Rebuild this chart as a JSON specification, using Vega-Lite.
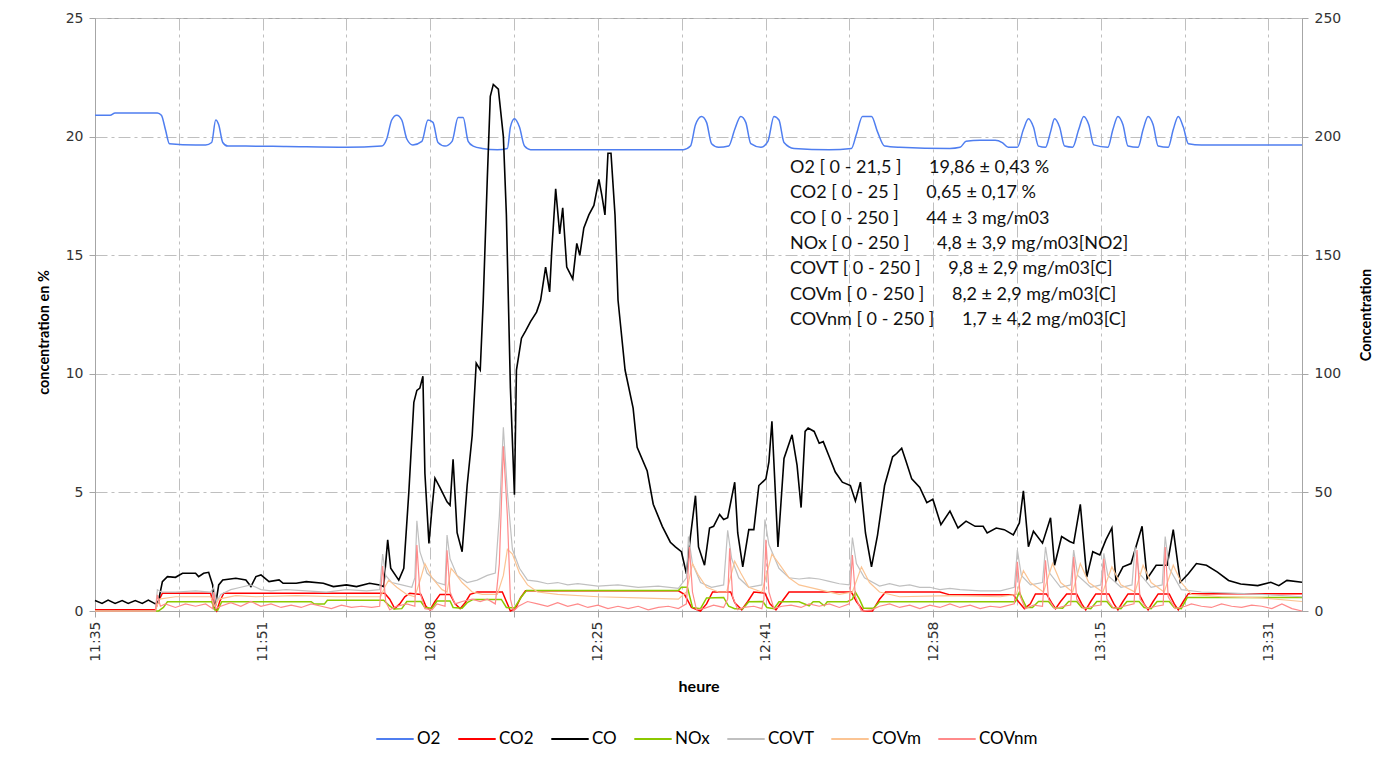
{
  "$schema": "https://vega.github.io/schema/vega-lite/v6.json",
  "width": 1207,
  "height": 593,
  "autosize": {"type": "none"},
  "padding": {"left": 95, "top": 18, "right": 93, "bottom": 149},
  "background": "white",
  "config": {
    "font": "Lato",
    "view": {"stroke": "#a6a6a6", "strokeWidth": 1},
    "axis": {
      "labelFont": "DejaVu Sans", "labelFontSize": 14, "labelColor": "#333333",
      "titleFont": "Lato", "titleFontWeight": "bold", "titleFontSize": 14, "titleColor": "#000000",
      "domainColor": "#a6a6a6", "tickColor": "#a6a6a6", "tickSize": 6,
      "gridColor": "#bfbfbf", "gridDash": [12, 4, 3, 4], "gridWidth": 1
    },
    "legend": {
      "orient": "none", "legendX": 280, "legendY": 701, "direction": "horizontal",
      "symbolType": "stroke", "symbolSize": 1400, "symbolStrokeWidth": 2,
      "labelFont": "Lato", "labelFontSize": 17, "labelColor": "#000000",
      "columnPadding": 13, "labelOffset": 2, "title": null
    }
  },
  "datasets": {
    "O2": [{"t":0,"v":20.9},{"t":1.5,"v":20.9},{"t":2,"v":21.0},{"t":6.2,"v":21.0},{"t":6.6,"v":20.9},{"t":7.0,"v":20.3},{"t":7.4,"v":19.7},{"t":10,"v":19.65},{"t":11,"v":19.65},{"t":11.6,"v":19.75},{"t":12.0,"v":20.7},{"t":12.3,"v":20.5},{"t":12.7,"v":19.75},{"t":13.2,"v":19.6},{"t":15,"v":19.6},{"t":19,"v":19.58},{"t":25,"v":19.55},{"t":28.5,"v":19.6},{"t":29.0,"v":19.9},{"t":29.5,"v":20.7},{"t":30.0,"v":20.9},{"t":30.5,"v":20.7},{"t":31.0,"v":19.9},{"t":31.6,"v":19.65},{"t":32.5,"v":19.8},{"t":33.1,"v":20.7},{"t":33.6,"v":20.6},{"t":34.1,"v":19.75},{"t":34.8,"v":19.6},{"t":35.5,"v":19.8},{"t":36.1,"v":20.8},{"t":36.6,"v":20.8},{"t":37.1,"v":19.8},{"t":37.6,"v":19.6},{"t":38.5,"v":19.5},{"t":40.0,"v":19.45},{"t":41.0,"v":19.5},{"t":41.3,"v":20.4},{"t":41.7,"v":20.75},{"t":42.2,"v":20.4},{"t":42.7,"v":19.6},{"t":43.3,"v":19.45},{"t":50,"v":19.45},{"t":55,"v":19.45},{"t":58.5,"v":19.45},{"t":59.2,"v":19.6},{"t":59.7,"v":20.5},{"t":60.3,"v":20.85},{"t":60.8,"v":20.6},{"t":61.3,"v":19.7},{"t":62,"v":19.55},{"t":63,"v":19.6},{"t":63.6,"v":20.3},{"t":64.2,"v":20.85},{"t":64.7,"v":20.6},{"t":65.2,"v":19.7},{"t":66.2,"v":19.55},{"t":66.9,"v":19.8},{"t":67.5,"v":20.85},{"t":68,"v":20.7},{"t":68.5,"v":19.75},{"t":69.5,"v":19.5},{"t":73,"v":19.45},{"t":75.2,"v":19.5},{"t":75.7,"v":20.1},{"t":76.3,"v":20.85},{"t":77.2,"v":20.85},{"t":77.8,"v":20.2},{"t":78.5,"v":19.6},{"t":80,"v":19.55},{"t":85,"v":19.5},{"t":86,"v":19.55},{"t":86.6,"v":19.8},{"t":88,"v":19.85},{"t":89.5,"v":19.85},{"t":90.2,"v":19.75},{"t":90.8,"v":19.55},{"t":91.7,"v":19.55},{"t":92.3,"v":20.3},{"t":92.8,"v":20.75},{"t":93.3,"v":20.4},{"t":93.8,"v":19.6},{"t":94.5,"v":19.55},{"t":95.0,"v":20.2},{"t":95.4,"v":20.75},{"t":95.9,"v":20.4},{"t":96.4,"v":19.6},{"t":97.2,"v":19.55},{"t":97.8,"v":20.3},{"t":98.3,"v":20.85},{"t":98.8,"v":20.5},{"t":99.3,"v":19.65},{"t":100.7,"v":19.55},{"t":101.2,"v":20.3},{"t":101.7,"v":20.85},{"t":102.2,"v":20.5},{"t":102.7,"v":19.6},{"t":103.7,"v":19.55},{"t":104.2,"v":20.3},{"t":104.7,"v":20.85},{"t":105.2,"v":20.5},{"t":105.7,"v":19.6},{"t":106.7,"v":19.55},{"t":107.2,"v":20.3},{"t":107.7,"v":20.85},{"t":108.2,"v":20.4},{"t":108.7,"v":19.7},{"t":110,"v":19.65},{"t":120,"v":19.65}],
    "CO2": [{"t":0,"v":0.05},{"t":6.0,"v":0.05},{"t":6.3,"v":0.4},{"t":6.7,"v":0.75},{"t":11.5,"v":0.75},{"t":11.8,"v":0.2},{"t":12.1,"v":0.0},{"t":12.4,"v":0.4},{"t":12.8,"v":0.75},{"t":28.8,"v":0.75},{"t":29.3,"v":0.5},{"t":29.8,"v":0.1},{"t":30.3,"v":0.3},{"t":30.8,"v":0.6},{"t":31.3,"v":0.75},{"t":32.4,"v":0.7},{"t":32.9,"v":0.2},{"t":33.3,"v":0.05},{"t":33.8,"v":0.4},{"t":34.3,"v":0.7},{"t":35.3,"v":0.7},{"t":35.8,"v":0.3},{"t":36.3,"v":0.1},{"t":36.8,"v":0.35},{"t":37.3,"v":0.7},{"t":38,"v":0.8},{"t":40.5,"v":0.8},{"t":40.9,"v":0.4},{"t":41.3,"v":0.0},{"t":41.8,"v":0.1},{"t":42.3,"v":0.55},{"t":42.8,"v":0.85},{"t":58.0,"v":0.85},{"t":58.6,"v":0.7},{"t":59.3,"v":0.15},{"t":60.2,"v":0.0},{"t":60.8,"v":0.3},{"t":61.4,"v":0.8},{"t":63.2,"v":0.8},{"t":63.6,"v":0.35},{"t":64.3,"v":0.05},{"t":64.9,"v":0.4},{"t":65.5,"v":0.8},{"t":66.6,"v":0.75},{"t":67.1,"v":0.3},{"t":67.7,"v":0.05},{"t":68.3,"v":0.4},{"t":69,"v":0.8},{"t":75.2,"v":0.8},{"t":75.7,"v":0.4},{"t":76.4,"v":0.0},{"t":77.3,"v":0.0},{"t":78.0,"v":0.5},{"t":78.6,"v":0.8},{"t":84,"v":0.8},{"t":85,"v":0.68},{"t":91.3,"v":0.68},{"t":91.8,"v":0.4},{"t":92.4,"v":0.1},{"t":93.0,"v":0.3},{"t":93.5,"v":0.72},{"t":94.6,"v":0.72},{"t":95.1,"v":0.35},{"t":95.5,"v":0.1},{"t":96,"v":0.4},{"t":96.6,"v":0.72},{"t":97.6,"v":0.72},{"t":98.1,"v":0.3},{"t":98.5,"v":0.05},{"t":99,"v":0.4},{"t":99.5,"v":0.72},{"t":100.8,"v":0.72},{"t":101.3,"v":0.3},{"t":101.7,"v":0.05},{"t":102.2,"v":0.4},{"t":102.7,"v":0.72},{"t":103.8,"v":0.72},{"t":104.3,"v":0.3},{"t":104.7,"v":0.05},{"t":105.2,"v":0.4},{"t":105.7,"v":0.72},{"t":106.8,"v":0.72},{"t":107.3,"v":0.3},{"t":107.7,"v":0.05},{"t":108.2,"v":0.4},{"t":108.7,"v":0.73},{"t":120,"v":0.73}],
    "CO": [{"t":0,"v":4.4},{"t":0.7,"v":3.2},{"t":1.3,"v":4.6},{"t":2,"v":3.2},{"t":2.7,"v":4.4},{"t":3.3,"v":3.2},{"t":4,"v":4.4},{"t":4.7,"v":3.2},{"t":5.3,"v":4.6},{"t":6,"v":3},{"t":6.3,"v":4},{"t":6.7,"v":12.4},{"t":7.2,"v":14.5},{"t":8,"v":14.2},{"t":8.7,"v":15.9},{"t":10,"v":15.9},{"t":10.3,"v":14.5},{"t":10.8,"v":15.9},{"t":11.3,"v":16.3},{"t":11.7,"v":11},{"t":11.9,"v":0.4},{"t":12.3,"v":11},{"t":12.7,"v":13.1},{"t":14,"v":13.8},{"t":15,"v":13.1},{"t":15.5,"v":10.3},{"t":16,"v":14.5},{"t":16.5,"v":15.2},{"t":17.3,"v":12.4},{"t":18.3,"v":13.1},{"t":18.7,"v":11.7},{"t":20,"v":11.7},{"t":21,"v":12.4},{"t":22.7,"v":11.7},{"t":23.7,"v":10.3},{"t":25,"v":11},{"t":26,"v":10.3},{"t":27.3,"v":11.7},{"t":28.3,"v":11},{"t":28.7,"v":10.3},{"t":29.1,"v":30},{"t":29.4,"v":18},{"t":30.2,"v":13},{"t":30.7,"v":18},{"t":31.2,"v":50},{"t":31.7,"v":88},{"t":32.0,"v":93},{"t":32.3,"v":94},{"t":32.6,"v":99},{"t":32.8,"v":58},{"t":33.2,"v":28.5},{"t":33.5,"v":43},{"t":33.8,"v":56},{"t":34.3,"v":52},{"t":35.0,"v":46},{"t":35.3,"v":44.6},{"t":35.6,"v":64},{"t":36.0,"v":33},{"t":36.5,"v":25},{"t":37.0,"v":53},{"t":37.5,"v":74},{"t":37.9,"v":104.5},{"t":38.3,"v":101.6},{"t":38.6,"v":131},{"t":39.0,"v":182},{"t":39.3,"v":217},{"t":39.6,"v":222},{"t":40.1,"v":220},{"t":40.6,"v":200},{"t":40.9,"v":167},{"t":41.3,"v":94},{"t":41.7,"v":49},{"t":41.9,"v":101.6},{"t":42.4,"v":115},{"t":42.8,"v":118},{"t":43.3,"v":122},{"t":43.9,"v":126},{"t":44.3,"v":131},{"t":44.8,"v":145},{"t":45.2,"v":134.5},{"t":45.4,"v":151},{"t":45.8,"v":178},{"t":46.2,"v":159},{"t":46.5,"v":170},{"t":46.9,"v":145},{"t":47.5,"v":140},{"t":47.9,"v":155},{"t":48.2,"v":150},{"t":48.6,"v":161.5},{"t":49.1,"v":167},{"t":49.6,"v":171},{"t":50.1,"v":182},{"t":50.4,"v":175},{"t":50.7,"v":167},{"t":51.0,"v":193},{"t":51.3,"v":193},{"t":51.7,"v":167},{"t":52.0,"v":131},{"t":52.7,"v":101.6},{"t":53.5,"v":85.5},{"t":53.9,"v":69},{"t":54.9,"v":59},{"t":55.5,"v":45},{"t":56.4,"v":35.7},{"t":57.2,"v":29},{"t":57.7,"v":27},{"t":58.3,"v":25},{"t":58.8,"v":15.7},{"t":59.2,"v":31.4},{"t":59.7,"v":48.6},{"t":60.0,"v":27},{"t":60.6,"v":19.3},{"t":61.1,"v":35},{"t":61.5,"v":35.7},{"t":62.1,"v":40.7},{"t":62.5,"v":38.6},{"t":62.9,"v":39.3},{"t":63.6,"v":54.3},{"t":63.9,"v":32.9},{"t":64.4,"v":18.6},{"t":65.0,"v":34.3},{"t":65.5,"v":34.3},{"t":66.0,"v":52.9},{"t":66.7,"v":55.7},{"t":67.0,"v":62.9},{"t":67.3,"v":80},{"t":67.9,"v":27},{"t":68.5,"v":64.3},{"t":69.3,"v":74.3},{"t":69.8,"v":61.4},{"t":70.2,"v":43.6},{"t":70.6,"v":75.7},{"t":70.9,"v":77.1},{"t":71.5,"v":75.7},{"t":72.0,"v":70.7},{"t":72.4,"v":71.4},{"t":73.0,"v":65},{"t":73.6,"v":58.6},{"t":74.3,"v":54.3},{"t":75.1,"v":52.9},{"t":75.6,"v":46.4},{"t":76.1,"v":54.3},{"t":76.6,"v":32.9},{"t":77.2,"v":18.6},{"t":77.8,"v":32},{"t":78.5,"v":52.9},{"t":79.3,"v":65},{"t":79.7,"v":66.4},{"t":80.2,"v":68.6},{"t":80.6,"v":63.6},{"t":81.2,"v":55.7},{"t":82.0,"v":52.1},{"t":82.7,"v":45.7},{"t":83.3,"v":47.1},{"t":84.1,"v":36.4},{"t":85.0,"v":42.1},{"t":85.8,"v":35},{"t":86.6,"v":37.9},{"t":87.5,"v":35.7},{"t":88.3,"v":35.7},{"t":88.7,"v":32.9},{"t":89.6,"v":35},{"t":90.4,"v":34.3},{"t":91.3,"v":32.1},{"t":91.9,"v":37.1},{"t":92.3,"v":50.7},{"t":92.8,"v":27.1},{"t":93.3,"v":33.6},{"t":94.2,"v":28.6},{"t":95.0,"v":39.3},{"t":95.4,"v":19.3},{"t":96.1,"v":31.4},{"t":96.9,"v":29.3},{"t":97.3,"v":28.6},{"t":97.96,"v":45},{"t":98.6,"v":14.3},{"t":99.2,"v":25},{"t":99.9,"v":23.6},{"t":100.5,"v":30},{"t":101.1,"v":35},{"t":101.5,"v":12.9},{"t":102.2,"v":18.6},{"t":103.0,"v":20},{"t":104.1,"v":35.7},{"t":104.6,"v":13.6},{"t":105.5,"v":19.3},{"t":106.6,"v":19.3},{"t":107.2,"v":34.3},{"t":107.9,"v":12.1},{"t":108.7,"v":15.7},{"t":109.5,"v":20},{"t":110.5,"v":19.3},{"t":111.6,"v":16.4},{"t":112.7,"v":12.9},{"t":113.9,"v":11.4},{"t":115.6,"v":10.7},{"t":116.9,"v":12.1},{"t":117.7,"v":10.7},{"t":118.5,"v":12.9},{"t":120,"v":12.1}],
    "NOx": [{"t":0,"v":0},{"t":6.3,"v":0},{"t":6.8,"v":1.5},{"t":7.2,"v":3.9},{"t":11.6,"v":3.9},{"t":11.9,"v":0.5},{"t":12.2,"v":0.3},{"t":12.6,"v":3.9},{"t":21.5,"v":3.9},{"t":21.8,"v":2.9},{"t":22.8,"v":2.9},{"t":23.1,"v":4.5},{"t":28.7,"v":4.5},{"t":29.2,"v":2.5},{"t":29.7,"v":0.8},{"t":30.5,"v":1.0},{"t":31.0,"v":4},{"t":32.4,"v":4},{"t":32.8,"v":1.5},{"t":33.5,"v":1.2},{"t":34.0,"v":4.2},{"t":35.3,"v":4.2},{"t":35.6,"v":1.5},{"t":36.5,"v":1.2},{"t":37,"v":3.5},{"t":37.6,"v":4.9},{"t":40.4,"v":4.9},{"t":40.9,"v":1.5},{"t":41.7,"v":1.3},{"t":42.4,"v":6},{"t":42.9,"v":8.6},{"t":58.0,"v":8.6},{"t":58.3,"v":10},{"t":58.9,"v":10},{"t":59.4,"v":1.5},{"t":60.2,"v":1.0},{"t":60.8,"v":5.5},{"t":62.5,"v":5.7},{"t":63.0,"v":2},{"t":63.6,"v":1},{"t":64.4,"v":1},{"t":65,"v":3.9},{"t":66.4,"v":4},{"t":66.8,"v":1.5},{"t":67.5,"v":1},{"t":68.0,"v":3.9},{"t":70,"v":3.9},{"t":71,"v":2.2},{"t":71.4,"v":3.9},{"t":72,"v":3.9},{"t":72.5,"v":2.2},{"t":72.8,"v":3.9},{"t":74.8,"v":3.9},{"t":75.3,"v":5},{"t":75.6,"v":7.9},{"t":76.0,"v":5},{"t":76.4,"v":1.2},{"t":77.4,"v":1.2},{"t":78.0,"v":3.9},{"t":91.5,"v":3.9},{"t":91.9,"v":7.9},{"t":92.2,"v":5},{"t":92.6,"v":1.5},{"t":93.2,"v":1.5},{"t":93.8,"v":4},{"t":94.8,"v":4},{"t":95.3,"v":1.5},{"t":96.2,"v":1.2},{"t":96.8,"v":4},{"t":97.6,"v":4},{"t":98.1,"v":1.5},{"t":99,"v":1},{"t":99.6,"v":4},{"t":100.6,"v":4},{"t":101.1,"v":1.5},{"t":102,"v":1},{"t":102.6,"v":4},{"t":103.8,"v":4},{"t":104.3,"v":1.5},{"t":105,"v":1},{"t":105.6,"v":4},{"t":106.8,"v":4},{"t":107.3,"v":1.5},{"t":108,"v":1},{"t":108.6,"v":5.7},{"t":120,"v":5.7}],
    "COVT": [{"t":0,"v":0},{"t":6.0,"v":0},{"t":6.2,"v":9},{"t":6.6,"v":8},{"t":8,"v":8},{"t":10,"v":8.5},{"t":11.5,"v":8},{"t":11.8,"v":10},{"t":12.1,"v":4},{"t":12.5,"v":7},{"t":13.5,"v":9},{"t":14.5,"v":10},{"t":15.5,"v":11},{"t":16.5,"v":9},{"t":17.5,"v":8.5},{"t":19,"v":9},{"t":21,"v":8.5},{"t":23,"v":8},{"t":25,"v":9},{"t":27,"v":8.5},{"t":28.3,"v":9},{"t":28.6,"v":24},{"t":28.9,"v":15},{"t":29.5,"v":12},{"t":30.5,"v":11},{"t":31.5,"v":10},{"t":31.8,"v":14},{"t":32.0,"v":38},{"t":32.3,"v":25},{"t":33,"v":16},{"t":34,"v":12},{"t":34.8,"v":11},{"t":35.0,"v":32},{"t":35.3,"v":22},{"t":36,"v":15},{"t":37,"v":12},{"t":38,"v":13},{"t":39,"v":15},{"t":39.8,"v":16},{"t":40.2,"v":40},{"t":40.6,"v":77.5},{"t":41.0,"v":50},{"t":41.5,"v":26},{"t":42.2,"v":18},{"t":43,"v":13},{"t":44,"v":12.5},{"t":45,"v":11.5},{"t":46,"v":12},{"t":47,"v":11},{"t":48,"v":11.5},{"t":50,"v":10.5},{"t":52,"v":11},{"t":54,"v":10},{"t":56,"v":10.5},{"t":58,"v":9.5},{"t":58.8,"v":14},{"t":59.0,"v":31.4},{"t":59.4,"v":20},{"t":60.2,"v":12},{"t":61.3,"v":10},{"t":62.5,"v":11},{"t":62.9,"v":34},{"t":63.3,"v":22},{"t":64,"v":14},{"t":65,"v":10},{"t":66.3,"v":11},{"t":66.6,"v":38.6},{"t":67,"v":28},{"t":68,"v":18},{"t":69,"v":14},{"t":70,"v":13.5},{"t":71,"v":14},{"t":72,"v":13.5},{"t":73,"v":12.5},{"t":74,"v":11.5},{"t":75.0,"v":11},{"t":75.3,"v":31},{"t":75.7,"v":20},{"t":76.5,"v":14},{"t":78,"v":10.5},{"t":79,"v":11.5},{"t":80,"v":10.5},{"t":81,"v":11},{"t":82,"v":10},{"t":83,"v":10},{"t":84,"v":9},{"t":85,"v":9.5},{"t":86,"v":9},{"t":88,"v":8.5},{"t":90,"v":8.5},{"t":91.4,"v":10},{"t":91.7,"v":25.7},{"t":92.1,"v":15},{"t":93,"v":11},{"t":94.2,"v":12},{"t":94.5,"v":27},{"t":94.9,"v":16},{"t":96,"v":10},{"t":97.0,"v":11},{"t":97.3,"v":25.7},{"t":97.7,"v":15},{"t":99,"v":10},{"t":100.0,"v":11},{"t":100.3,"v":24.3},{"t":100.7,"v":15},{"t":102,"v":10},{"t":103.1,"v":11},{"t":103.4,"v":27},{"t":103.8,"v":16},{"t":105,"v":10},{"t":106.1,"v":11},{"t":106.4,"v":31.4},{"t":106.8,"v":18},{"t":108,"v":9},{"t":110,"v":8},{"t":113,"v":7.5},{"t":116,"v":7},{"t":120,"v":6}],
    "COVm": [{"t":0,"v":0},{"t":6.0,"v":0},{"t":6.4,"v":5},{"t":8,"v":6},{"t":11.5,"v":6},{"t":11.9,"v":2},{"t":12.3,"v":5},{"t":14,"v":6.5},{"t":16,"v":6},{"t":20,"v":6.5},{"t":24,"v":6},{"t":28.4,"v":6},{"t":28.8,"v":10},{"t":29.2,"v":13},{"t":30,"v":10},{"t":31,"v":7},{"t":31.8,"v":6},{"t":32.4,"v":14},{"t":32.8,"v":20},{"t":33.5,"v":14},{"t":34.5,"v":9},{"t":35.0,"v":8},{"t":35.4,"v":18},{"t":35.8,"v":16},{"t":36.5,"v":12},{"t":37.5,"v":8},{"t":38.5,"v":7},{"t":40.0,"v":7},{"t":40.6,"v":15},{"t":41.0,"v":26},{"t":41.5,"v":24},{"t":42.2,"v":16},{"t":43,"v":11},{"t":44,"v":8},{"t":46,"v":7},{"t":50,"v":6},{"t":54,"v":5.5},{"t":58,"v":5},{"t":58.8,"v":8},{"t":59.4,"v":20},{"t":60,"v":15},{"t":60.8,"v":10},{"t":62,"v":8},{"t":62.8,"v":8},{"t":63.6,"v":21},{"t":64.2,"v":16},{"t":65,"v":10},{"t":66.3,"v":8},{"t":66.8,"v":16},{"t":67.3,"v":24},{"t":68,"v":20},{"t":69,"v":14},{"t":70,"v":11},{"t":72,"v":9},{"t":74,"v":7},{"t":75.3,"v":8},{"t":76.2,"v":18.6},{"t":77,"v":12},{"t":78,"v":8},{"t":80,"v":6},{"t":85,"v":6.5},{"t":90,"v":6},{"t":91.6,"v":7},{"t":92.3,"v":17},{"t":93,"v":12},{"t":94.3,"v":8},{"t":95.2,"v":20},{"t":96,"v":12},{"t":97.2,"v":8},{"t":97.96,"v":20},{"t":98.8,"v":12},{"t":100.2,"v":8},{"t":101.1,"v":18.6},{"t":102,"v":11},{"t":103.4,"v":8},{"t":104.2,"v":19.3},{"t":105,"v":12},{"t":106.3,"v":8},{"t":107.2,"v":19.3},{"t":108,"v":12},{"t":109,"v":7},{"t":112,"v":6},{"t":116,"v":5.5},{"t":120,"v":4}],
    "COVnm": [{"t":0,"v":0},{"t":6.0,"v":0},{"t":6.2,"v":6.8},{"t":6.5,"v":2},{"t":7,"v":3},{"t":8,"v":1.5},{"t":9,"v":3},{"t":10,"v":2},{"t":11,"v":3},{"t":11.7,"v":1},{"t":11.8,"v":8},{"t":12.0,"v":1},{"t":12.5,"v":2},{"t":13.5,"v":3.5},{"t":14.5,"v":2},{"t":15.5,"v":4},{"t":16.5,"v":2},{"t":17.5,"v":3},{"t":18.5,"v":1.5},{"t":19.5,"v":2.5},{"t":20.5,"v":1.5},{"t":21.5,"v":3},{"t":22.5,"v":2},{"t":23.5,"v":1},{"t":24.5,"v":2.5},{"t":25.5,"v":1.5},{"t":26.5,"v":2},{"t":27.5,"v":1.5},{"t":28.3,"v":2},{"t":28.6,"v":19},{"t":28.9,"v":4},{"t":29.3,"v":0.5},{"t":30,"v":2},{"t":31,"v":3},{"t":31.8,"v":2},{"t":32.0,"v":27.8},{"t":32.3,"v":8},{"t":32.8,"v":1},{"t":33.5,"v":0.5},{"t":34,"v":3},{"t":34.8,"v":2},{"t":35.0,"v":25.6},{"t":35.3,"v":8},{"t":35.8,"v":3},{"t":36.5,"v":4},{"t":37.5,"v":5},{"t":38.3,"v":4},{"t":39,"v":5},{"t":39.8,"v":3},{"t":40.2,"v":20},{"t":40.6,"v":69.4},{"t":41.0,"v":40},{"t":41.3,"v":5},{"t":41.6,"v":0},{"t":42.1,"v":2},{"t":43,"v":4},{"t":44,"v":3},{"t":45,"v":2},{"t":46,"v":3.5},{"t":47,"v":2},{"t":48,"v":3},{"t":49,"v":1.5},{"t":50,"v":2.5},{"t":51,"v":1},{"t":52,"v":2},{"t":53,"v":1},{"t":54,"v":2},{"t":55,"v":0.5},{"t":56,"v":1.5},{"t":57,"v":2},{"t":58,"v":1},{"t":58.8,"v":3},{"t":59.1,"v":27},{"t":59.4,"v":8},{"t":59.8,"v":0.5},{"t":60.5,"v":1},{"t":61.5,"v":2.5},{"t":62.5,"v":1.5},{"t":62.9,"v":5},{"t":63.1,"v":26.4},{"t":63.4,"v":6},{"t":63.9,"v":0.5},{"t":64.5,"v":1.5},{"t":65.5,"v":2},{"t":66.3,"v":1},{"t":66.5,"v":5},{"t":66.7,"v":30},{"t":67.0,"v":8},{"t":67.5,"v":1},{"t":68.3,"v":2},{"t":69.2,"v":2.5},{"t":70.2,"v":1.5},{"t":71,"v":3},{"t":72,"v":2},{"t":73,"v":3},{"t":74,"v":1.5},{"t":75.0,"v":3},{"t":75.3,"v":23.6},{"t":75.6,"v":6},{"t":76.2,"v":0},{"t":77.2,"v":0.5},{"t":78,"v":2},{"t":79,"v":3},{"t":80,"v":1.5},{"t":81,"v":2.5},{"t":82,"v":1},{"t":83,"v":2.5},{"t":84,"v":1.5},{"t":85,"v":3},{"t":86,"v":1.5},{"t":87,"v":2.5},{"t":88,"v":1},{"t":89,"v":2},{"t":90,"v":1.5},{"t":91.4,"v":3},{"t":91.7,"v":20.7},{"t":92,"v":6},{"t":92.5,"v":1},{"t":93.3,"v":2.5},{"t":94.2,"v":2},{"t":94.5,"v":21.4},{"t":94.8,"v":5},{"t":95.4,"v":1},{"t":96.3,"v":2},{"t":97.0,"v":2.5},{"t":97.3,"v":22.9},{"t":97.6,"v":5},{"t":98.3,"v":1},{"t":99.2,"v":2},{"t":100.0,"v":2.5},{"t":100.3,"v":22},{"t":100.6,"v":5},{"t":101.3,"v":1},{"t":102.3,"v":2},{"t":103.3,"v":3},{"t":103.6,"v":25.7},{"t":103.9,"v":5},{"t":104.6,"v":1},{"t":105.5,"v":2},{"t":106.2,"v":2.5},{"t":106.4,"v":27},{"t":106.7,"v":6},{"t":107.4,"v":1},{"t":108.4,"v":2},{"t":109,"v":3},{"t":110,"v":2},{"t":111,"v":1.5},{"t":112,"v":3},{"t":113,"v":2},{"t":114,"v":1.5},{"t":115,"v":2.5},{"t":116,"v":2},{"t":117,"v":1},{"t":118,"v":3},{"t":119,"v":1},{"t":120,"v":0}],
    "notes": [
      {"k": 0, "txt": "O2 [ 0 - 21,5 ]\u00a0\u00a0\u00a0\u00a0\u00a0 19,86 ± 0,43 %"},
      {"k": 1, "txt": "CO2 [ 0 - 25 ]\u00a0\u00a0\u00a0\u00a0\u00a0 0,65 ± 0,17 %"},
      {"k": 2, "txt": "CO [ 0 - 250 ]\u00a0\u00a0\u00a0\u00a0\u00a0 44 ± 3 mg/m03"},
      {"k": 3, "txt": "NOx [ 0 - 250 ]\u00a0\u00a0\u00a0\u00a0\u00a0 4,8 ± 3,9 mg/m03[NO2]"},
      {"k": 4, "txt": "COVT [ 0 - 250 ]\u00a0\u00a0\u00a0\u00a0\u00a0 9,8 ± 2,9 mg/m03[C]"},
      {"k": 5, "txt": "COVm [ 0 - 250 ]\u00a0\u00a0\u00a0\u00a0\u00a0 8,2 ± 2,9 mg/m03[C]"},
      {"k": 6, "txt": "COVnm [ 0 - 250 ]\u00a0\u00a0\u00a0\u00a0\u00a0 1,7 ± 4,2 mg/m03[C]"}
    ]
  },
  "layer": [
    {
      "encoding": {
        "x": {
          "field": "t", "type": "quantitative",
          "scale": {"domain": [0, 120], "nice": false, "zero": false},
          "axis": {
            "title": "heure", "titleFontSize": 16, "titlePadding": 17,
            "values": [0, 8.33333, 16.66667, 25, 33.33333, 41.66667, 50, 58.33333, 66.66667, 75, 83.33333, 91.66667, 100, 108.33333, 116.66667],
            "labelExpr": "round(datum.value / 8.33333) % 2 == 0 ? (floor((695 + datum.value + 0.01) / 60) + ':' + (floor((695 + datum.value + 0.01) % 60) < 10 ? '0' : '') + floor((695 + datum.value + 0.01) % 60)) : ''",
            "labelAngle": 270, "labelFlush": false, "labelOverlap": false, "labelPadding": 4,
            "grid": true
          }
        },
        "y": {
          "field": "v", "type": "quantitative",
          "scale": {"domain": [0, 25], "nice": false, "zero": true},
          "axis": {
            "title": "concentration en %", "titleFontSize": 14.5, "titlePadding": 14, "titleY": 314,
            "values": [0, 5, 10, 15, 20, 25], "grid": true, "labelPadding": 6
          }
        }
      },
      "layer": [
        {
          "data": {"name": "O2"},
          "mark": {"type": "line", "strokeWidth": 1.5, "interpolate": "monotone"},
          "encoding": {"color": {"datum": "O2", "type": "nominal", "scale": {"domain": ["O2", "CO2", "CO", "NOx", "COVT", "COVm", "COVnm"], "range": ["#4f7ef0", "#ff0000", "#000000", "#8cc800", "#c0c0c0", "#fbc493", "#ff8a8a"]}}}
        },
        {
          "data": {"name": "CO2"},
          "mark": {"type": "line", "strokeWidth": 1.5},
          "encoding": {"color": {"datum": "CO2", "type": "nominal", "scale": {"domain": ["O2", "CO2", "CO", "NOx", "COVT", "COVm", "COVnm"], "range": ["#4f7ef0", "#ff0000", "#000000", "#8cc800", "#c0c0c0", "#fbc493", "#ff8a8a"]}}}
        }
      ]
    },
    {
      "encoding": {
        "x": {"field": "t", "type": "quantitative", "scale": {"domain": [0, 120], "nice": false, "zero": false}},
        "y": {
          "field": "v", "type": "quantitative",
          "scale": {"domain": [0, 250], "nice": false, "zero": true},
          "axis": {
            "orient": "right", "title": "Concentration", "titleAngle": 270, "titleFontSize": 14.5, "titlePadding": 33,
            "values": [0, 50, 100, 150, 200, 250], "grid": false, "labelPadding": 6
          }
        }
      },
      "layer": [
        {
          "data": {"name": "CO"},
          "mark": {"type": "line", "strokeWidth": 1.6},
          "encoding": {"color": {"datum": "CO", "type": "nominal", "scale": {"domain": ["O2", "CO2", "CO", "NOx", "COVT", "COVm", "COVnm"], "range": ["#4f7ef0", "#ff0000", "#000000", "#8cc800", "#c0c0c0", "#fbc493", "#ff8a8a"]}}}
        },
        {
          "data": {"name": "NOx"},
          "mark": {"type": "line", "strokeWidth": 1.5},
          "encoding": {"color": {"datum": "NOx", "type": "nominal", "scale": {"domain": ["O2", "CO2", "CO", "NOx", "COVT", "COVm", "COVnm"], "range": ["#4f7ef0", "#ff0000", "#000000", "#8cc800", "#c0c0c0", "#fbc493", "#ff8a8a"]}}}
        },
        {
          "data": {"name": "COVT"},
          "mark": {"type": "line", "strokeWidth": 1.2},
          "encoding": {"color": {"datum": "COVT", "type": "nominal", "scale": {"domain": ["O2", "CO2", "CO", "NOx", "COVT", "COVm", "COVnm"], "range": ["#4f7ef0", "#ff0000", "#000000", "#8cc800", "#c0c0c0", "#fbc493", "#ff8a8a"]}}}
        },
        {
          "data": {"name": "COVm"},
          "mark": {"type": "line", "strokeWidth": 1.2},
          "encoding": {"color": {"datum": "COVm", "type": "nominal", "scale": {"domain": ["O2", "CO2", "CO", "NOx", "COVT", "COVm", "COVnm"], "range": ["#4f7ef0", "#ff0000", "#000000", "#8cc800", "#c0c0c0", "#fbc493", "#ff8a8a"]}}}
        },
        {
          "data": {"name": "COVnm"},
          "mark": {"type": "line", "strokeWidth": 1.2},
          "encoding": {"color": {"datum": "COVnm", "type": "nominal", "scale": {"domain": ["O2", "CO2", "CO", "NOx", "COVT", "COVm", "COVnm"], "range": ["#4f7ef0", "#ff0000", "#000000", "#8cc800", "#c0c0c0", "#fbc493", "#ff8a8a"]}}}
        }
      ]
    },
    {
      "data": {"name": "notes"},
      "mark": {"type": "text", "align": "left", "baseline": "middle", "font": "Lato", "fontSize": 18, "fill": "#111111"},
      "encoding": {
        "x": {"datum": 69.1, "type": "quantitative"},
        "y": {"field": "k", "type": "quantitative", "scale": {"domain": [-5.92, 17.49], "reverse": true, "nice": false, "zero": false}, "axis": null},
        "text": {"field": "txt", "type": "nominal"}
      }
    }
  ],
  "resolve": {"scale": {"y": "independent"}, "axis": {"y": "independent"}}
}
